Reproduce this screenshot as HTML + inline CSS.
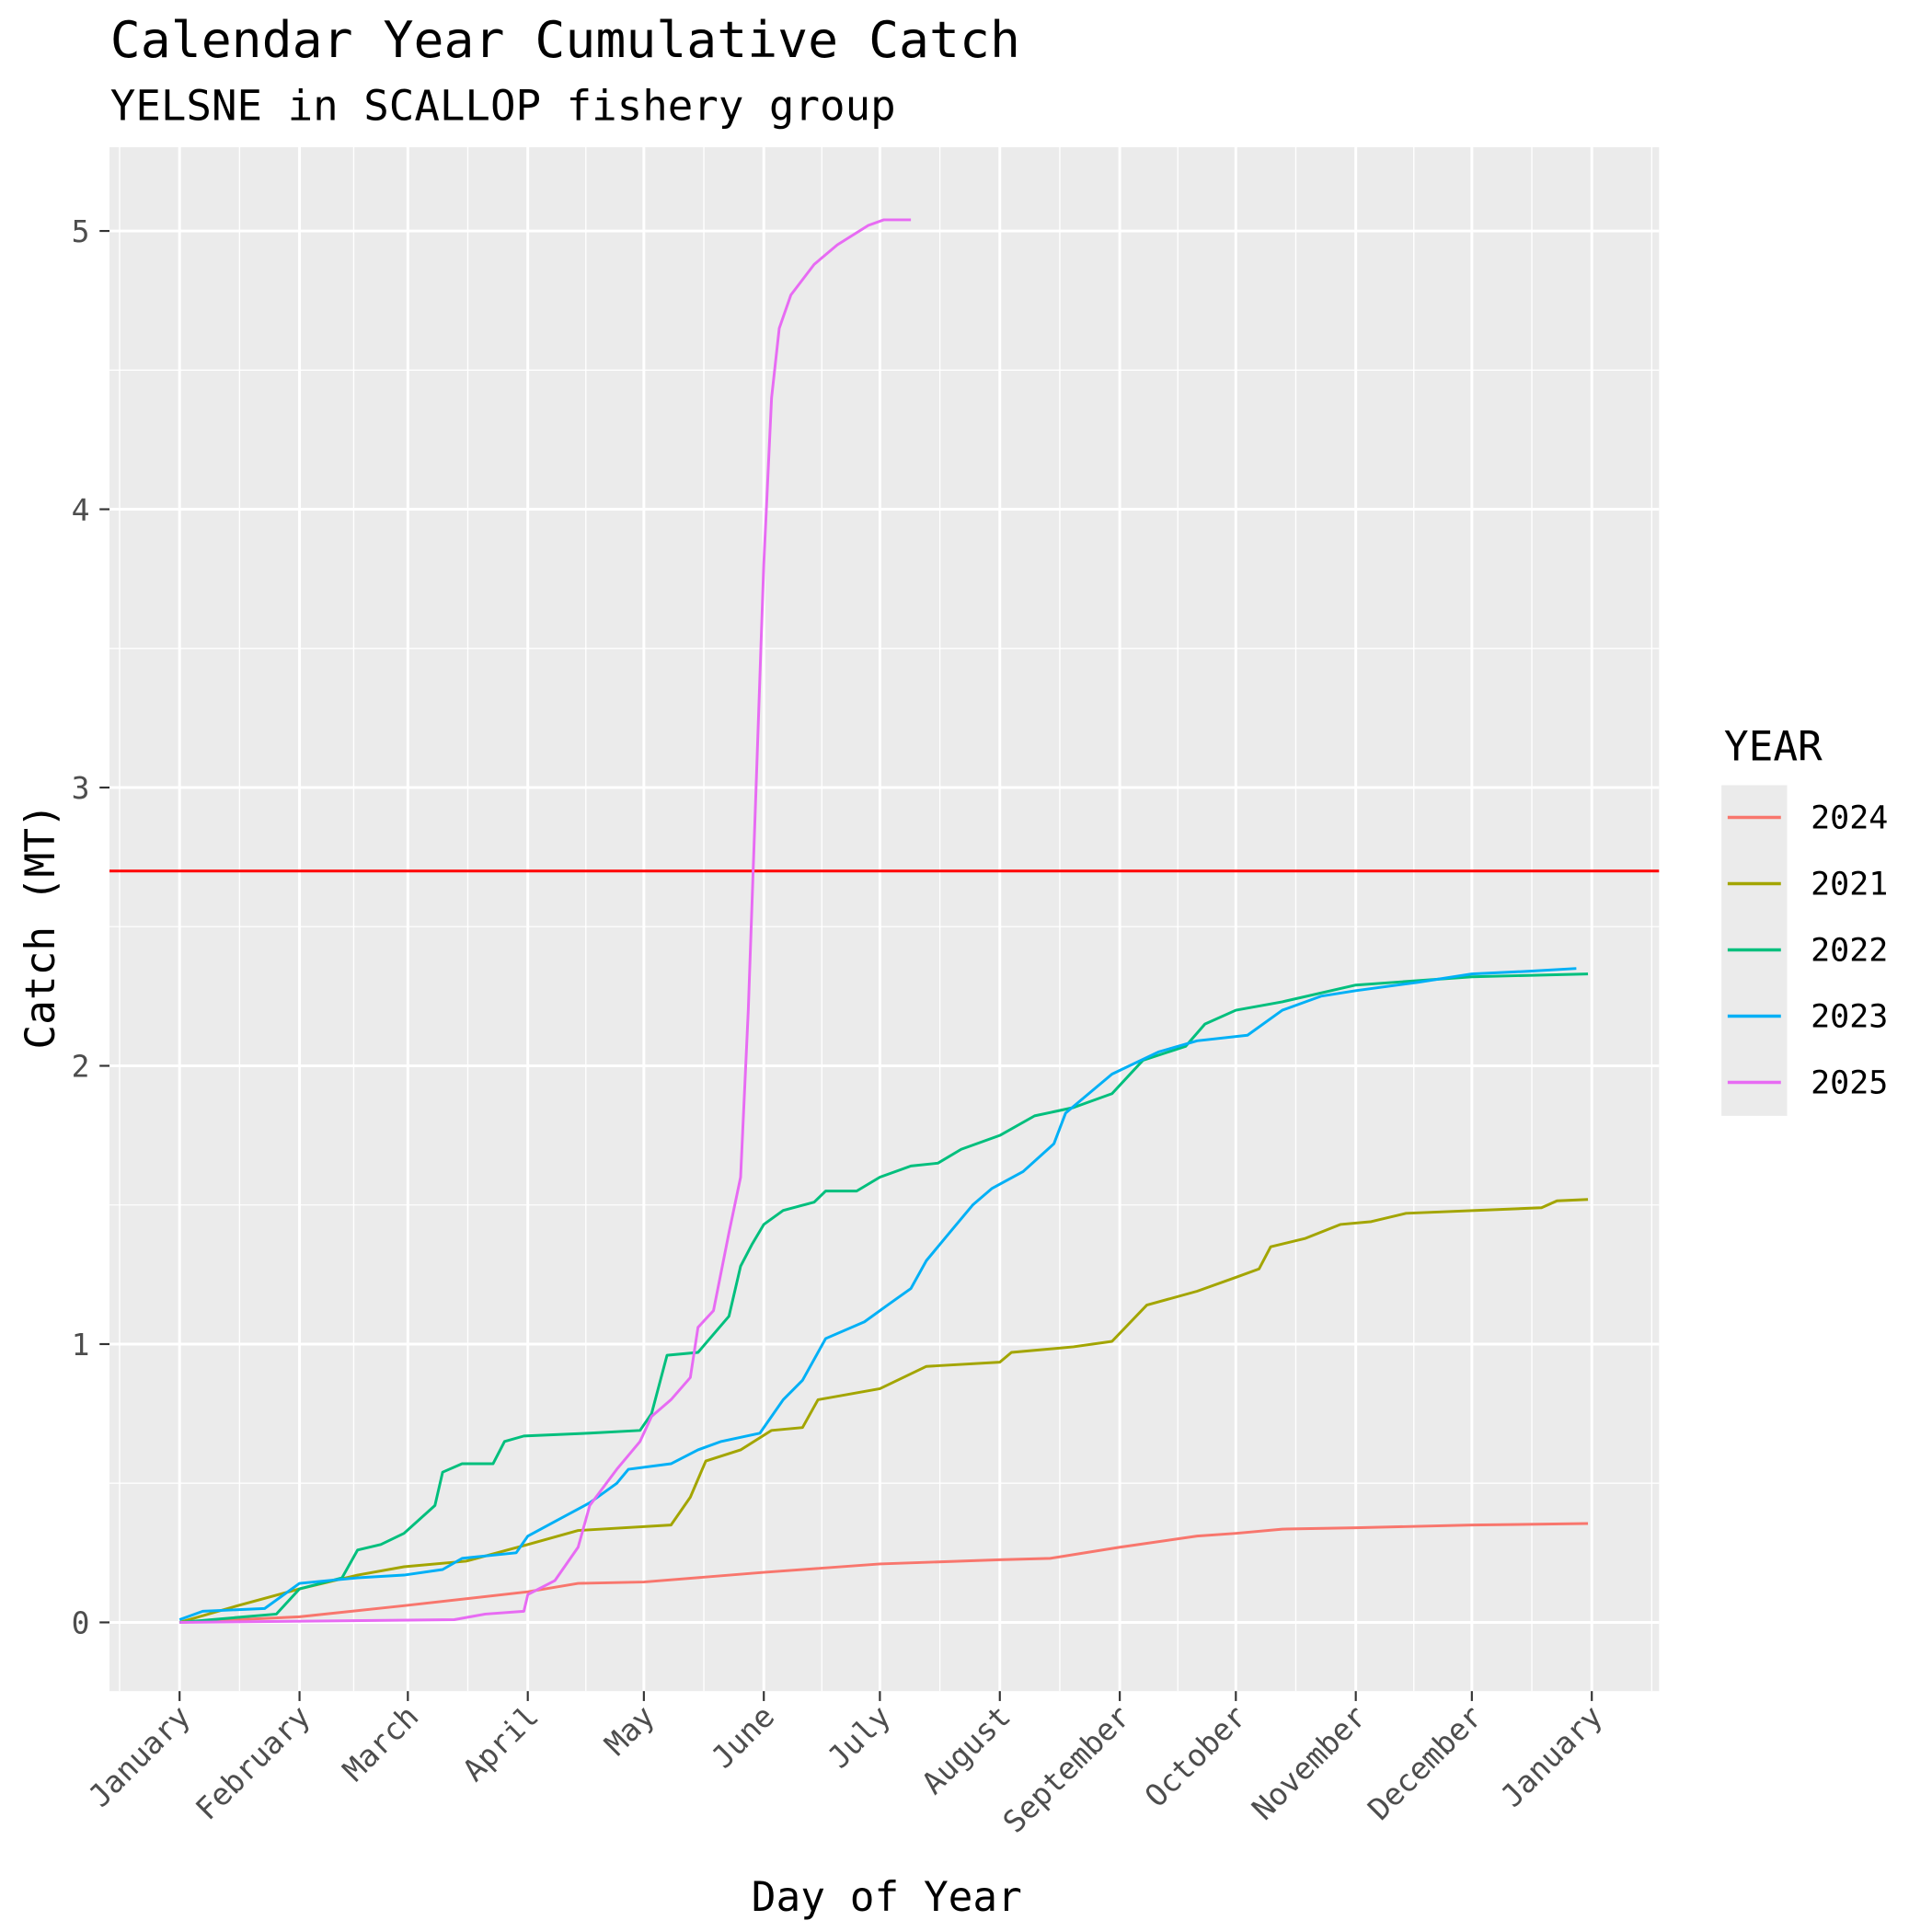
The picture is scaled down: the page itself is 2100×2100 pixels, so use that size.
<!DOCTYPE html>
<html><head><meta charset="utf-8"><style>
html,body{margin:0;padding:0;background:#fff;}
svg{display:block;}
text{font-family:"DejaVu Sans Mono","Liberation Mono",monospace;}
</style></head><body>
<svg id="chart" width="2100" height="2100" viewBox="0 0 1560 1560" xmlns="http://www.w3.org/2000/svg">
<text x="89" y="46" font-size="40.7" fill="#000">Calendar Year Cumulative Catch</text>
<text x="89" y="97" font-size="34" fill="#000">YELSNE in SCALLOP fishery group</text>
<rect x="88.4" y="118.9" width="1251.2" height="1246.6" fill="#EBEBEB"/>
<g id="grid"></g>
<g id="series"></g>
<g id="axes"></g>
<text x="716" y="1543" font-size="33" text-anchor="middle" fill="#000">Day of Year</text>
<text transform="translate(44,748) rotate(-90)" font-size="33" text-anchor="middle" fill="#000">Catch (MT)</text>
<g>
<text x="1392" y="614" font-size="33" fill="#000">YEAR</text>
<rect x="1390" y="634" width="53" height="267" fill="#EBEBEB"/>
<g id="legend-items"></g>
</g>
</svg>
<script>
const monthLabels=["January","February","March","April","May","June","July","August","September","October","November","December","January"];
const monthStartDays=[0,31,59,90,120,151,181,212,243,273,304,334,365];
const yTicks=[0,1,2,3,4,5];
const thresholdValue=2.7;
const seriesNames=["2024","2021","2022","2023","2025"];
const seriesColors=["#F8766D","#A3A500","#00BF7D","#00B0F6","#E76BF3"];
const days2024=[0,31,58,90,103,120,151,181,212,225,243,263,273,285,304,334,364];
const vals2024=[0,0.02,0.06,0.11,0.14,0.145,0.18,0.21,0.225,0.23,0.27,0.31,0.32,0.335,0.34,0.35,0.355];
const days2021=[0,15,31,46,58,74,90,103,127,132,136,145,153,161,165,181,193,212,215,231,241,250,263,273,279,282,291,300,308,317,352,356,364];
const vals2021=[0,0.06,0.12,0.17,0.2,0.22,0.28,0.33,0.35,0.45,0.58,0.62,0.69,0.7,0.8,0.84,0.92,0.935,0.97,0.99,1.01,1.14,1.19,1.24,1.27,1.35,1.38,1.43,1.44,1.47,1.49,1.515,1.52];
const days2022=[0,25,31,42,46,52,58,66,68,73,81,84,89,106,119,122,126,134,142,145,148,151,156,164,167,175,181,189,196,202,212,221,231,241,249,260,265,273,285,304,334,364];
const vals2022=[0,0.03,0.12,0.16,0.26,0.28,0.32,0.42,0.54,0.57,0.57,0.65,0.67,0.68,0.69,0.75,0.96,0.97,1.1,1.28,1.36,1.43,1.48,1.51,1.55,1.55,1.6,1.64,1.65,1.7,1.75,1.82,1.85,1.9,2.02,2.07,2.15,2.2,2.23,2.29,2.32,2.33];
const days2023=[0,6,22,31,46,58,68,73,87,90,106,113,116,127,134,140,150,156,161,167,177,183,189,193,199,205,210,218,226,229,241,253,263,276,285,295,304,320,334,349,361];
const vals2023=[0.01,0.04,0.05,0.14,0.16,0.17,0.19,0.23,0.25,0.31,0.43,0.5,0.55,0.57,0.62,0.65,0.68,0.8,0.87,1.02,1.08,1.14,1.2,1.3,1.4,1.5,1.56,1.62,1.72,1.83,1.97,2.05,2.09,2.11,2.2,2.25,2.27,2.3,2.33,2.34,2.35];
const days2025=[0,71,79,89,90,97,103,106,113,119,122,127,132,134,138,142,145,147,149,151,153,155,158,164,170,178,182,189];
const vals2025=[0,0.01,0.03,0.04,0.1,0.15,0.27,0.42,0.55,0.65,0.74,0.8,0.88,1.06,1.12,1.4,1.6,2.2,3.0,3.8,4.4,4.65,4.77,4.88,4.95,5.02,5.04,5.04];
const seriesDays=[days2024,days2021,days2022,days2023,days2025];
const seriesVals=[vals2024,vals2021,vals2022,vals2023,vals2025];

const NS="http://www.w3.org/2000/svg";
const X0=88.4,X1=1339.6,Y0=118.9,Y1=1365.5;
function xScale(d){return 145+d*(1285.3-145)/365;}
function yScale(v){return 1310-v*(1310-186.5)/5;}
function mk(tag,parent,attrs){const e=document.createElementNS(NS,tag);for(const k in attrs)e.setAttribute(k,attrs[k]);parent.appendChild(e);return e;}
const grid=document.getElementById('grid'),axes=document.getElementById('axes'),series=document.getElementById('series');
for(let i=0;i<yTicks.length-1;i++){const v=(yTicks[i]+yTicks[i+1])/2;const l=mk('line',grid,{x1:X0,x2:X1,y1:yScale(v),y2:yScale(v),stroke:'#fff','stroke-width':1});

}
for(let i=0;i<monthStartDays.length-1;i++){const d=(monthStartDays[i]+monthStartDays[i+1])/2;const l=mk('line',grid,{x1:xScale(d),x2:xScale(d),y1:Y0,y2:Y1,stroke:'#fff','stroke-width':1});

}
[xScale(-15.5),xScale(380.5)].forEach(x=>{const l=mk('line',grid,{x1:x,x2:x,y1:Y0,y2:Y1,stroke:'#fff','stroke-width':1});

});
yTicks.forEach(v=>{const y=yScale(v);const l=mk('line',grid,{x1:X0,x2:X1,y1:y,y2:y,stroke:'#fff','stroke-width':2.2});


const t=mk('line',axes,{x1:X0-8,x2:X0,y1:y,y2:y,stroke:'#333','stroke-width':1.6});


const tx=mk('text',axes,{x:X0-16,y:y+9,'font-size':24.5,'text-anchor':'end',fill:'#4D4D4D'});tx.textContent=v;

});
monthStartDays.forEach((d,i)=>{const x=xScale(d);const l=mk('line',grid,{x1:x,x2:x,y1:Y0,y2:Y1,stroke:'#fff','stroke-width':2.2});


const t=mk('line',axes,{x1:x,x2:x,y1:Y1,y2:Y1+8,stroke:'#333','stroke-width':1.6});


const tx=mk('text',axes,{transform:`translate(${x+10},${Y1+22}) rotate(-45)`,'font-size':24.5,'text-anchor':'end',fill:'#4D4D4D'});tx.textContent=monthLabels[i];

});
const th=mk('line',series,{x1:X0,x2:X1,y1:yScale(thresholdValue),y2:yScale(thresholdValue),stroke:'#FF0000','stroke-width':2.2});


seriesNames.forEach((n,i)=>{const pts=seriesDays[i].map((d,j)=>xScale(d).toFixed(1)+','+yScale(seriesVals[i][j]).toFixed(1)).join(' ');
const p=mk('polyline',series,{points:pts,fill:'none',stroke:seriesColors[i],'stroke-width':2.2,'stroke-linejoin':'round'});


const lg=document.getElementById('legend-items');const y=660+i*53.5;
const ll=mk('line',lg,{x1:1395,x2:1438,y1:y,y2:y,stroke:seriesColors[i],'stroke-width':2.6});


const lt=mk('text',lg,{x:1462,y:y+9,'font-size':26,fill:'#000'});lt.textContent=n;

});
</script>
</body></html>
